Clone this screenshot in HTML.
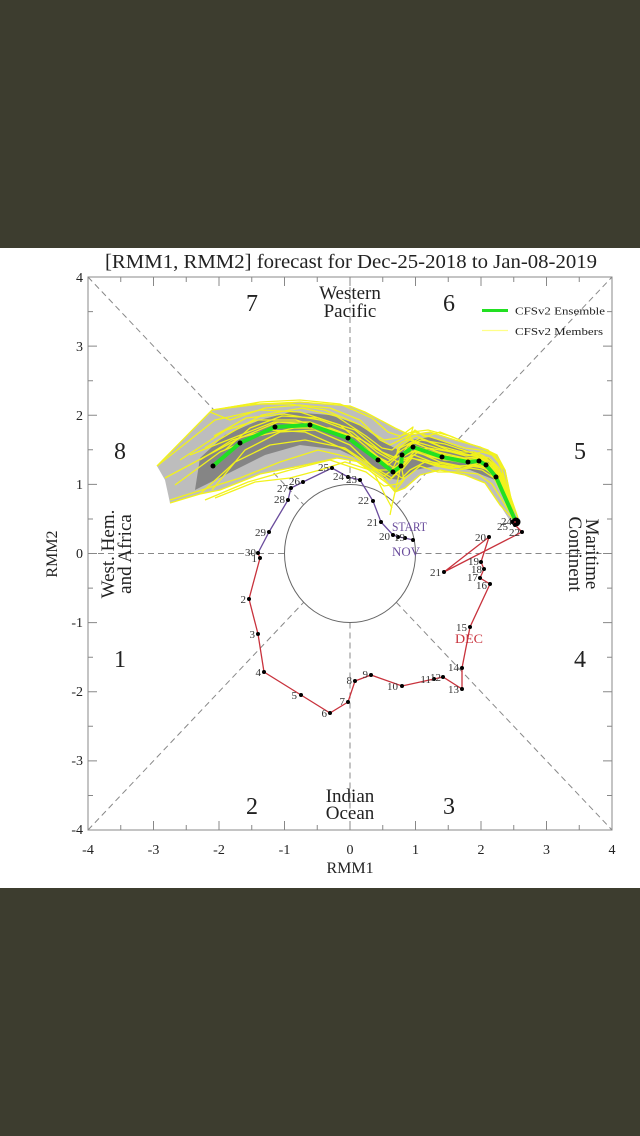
<!DOCTYPE html>
<html><head><meta charset="utf-8"><style>
html,body{margin:0;padding:0;background:#3d3d2f;}
svg{display:block;}
text{font-family:"Liberation Serif",serif;}
</style></head><body>
<svg width="640" height="1136" viewBox="0 0 640 1136" xmlns="http://www.w3.org/2000/svg">
<rect x="0" y="0" width="640" height="1136" fill="#3d3d2f"/>
<rect x="0" y="248" width="640" height="640" fill="#ffffff"/>

<!-- title -->
<text x="105" y="268" font-size="20" fill="#222" textLength="492" lengthAdjust="spacingAndGlyphs">[RMM1, RMM2] forecast for Dec-25-2018 to Jan-08-2019</text>

<!-- dashed guides -->
<g stroke="#888" stroke-width="1" stroke-dasharray="6,4" fill="none">
<line x1="350" y1="277" x2="350" y2="484.5"/>
<line x1="350" y1="622.5" x2="350" y2="830"/>
<line x1="88" y1="553.5" x2="284.5" y2="553.5"/>
<line x1="415.5" y1="553.5" x2="612" y2="553.5"/>
<line x1="88" y1="277" x2="303.7" y2="504.7"/>
<line x1="396.3" y1="602.3" x2="612" y2="830"/>
<line x1="88" y1="830" x2="303.7" y2="602.3"/>
<line x1="396.3" y1="504.7" x2="612" y2="277"/>
</g>
<ellipse cx="350" cy="553.5" rx="65.5" ry="69" fill="none" stroke="#666" stroke-width="1"/>

<!-- frame & ticks -->
<rect x="88" y="277" width="524" height="553" fill="none" stroke="#888" stroke-width="1"/>
<g stroke="#888" stroke-width="1">
<path d="M88 830v-9M153.5 830v-9M219 830v-9M284.5 830v-9M350 830v-9M415.5 830v-9M481 830v-9M546.5 830v-9M612 830v-9"/>
<path d="M120.75 830v-5M186.25 830v-5M251.75 830v-5M317.25 830v-5M382.75 830v-5M448.25 830v-5M513.75 830v-5M579.25 830v-5"/>
<path d="M88 277v9M153.5 277v9M219 277v9M284.5 277v9M350 277v9M415.5 277v9M481 277v9M546.5 277v9M612 277v9"/>
<path d="M120.75 277v5M186.25 277v5M251.75 277v5M317.25 277v5M382.75 277v5M448.25 277v5M513.75 277v5M579.25 277v5"/>
<path d="M88 277h9M88 346.1h9M88 415.3h9M88 484.4h9M88 553.5h9M88 622.6h9M88 691.7h9M88 760.9h9M88 830h9"/>
<path d="M88 311.6h5M88 380.7h5M88 449.8h5M88 519h5M88 588.1h5M88 657.2h5M88 726.3h5M88 795.5h5"/>
<path d="M612 277h-9M612 346.1h-9M612 415.3h-9M612 484.4h-9M612 553.5h-9M612 622.6h-9M612 691.7h-9M612 760.9h-9M612 830h-9"/>
<path d="M612 311.6h-5M612 380.7h-5M612 449.8h-5M612 519h-5M612 588.1h-5M612 657.2h-5M612 726.3h-5M612 795.5h-5"/>
</g>

<!-- tick labels -->
<g font-size="14" fill="#222" text-anchor="middle">
<text x="88" y="854">-4</text><text x="153.5" y="854">-3</text><text x="219" y="854">-2</text><text x="284.5" y="854">-1</text>
<text x="350" y="854">0</text><text x="415.5" y="854">1</text><text x="481" y="854">2</text><text x="546.5" y="854">3</text><text x="612" y="854">4</text>
</g>
<g font-size="14" fill="#222" text-anchor="end">
<text x="83" y="282">4</text><text x="83" y="351">3</text><text x="83" y="420">2</text><text x="83" y="489">1</text>
<text x="83" y="558">0</text><text x="83" y="627">-1</text><text x="83" y="696">-2</text><text x="83" y="765">-3</text><text x="83" y="834">-4</text>
</g>
<text x="350" y="873" font-size="16" fill="#222" text-anchor="middle">RMM1</text>
<text transform="translate(57,554) rotate(-90)" font-size="16" fill="#222" text-anchor="middle">RMM2</text>

<!-- phase numbers -->
<g font-size="24" fill="#222" text-anchor="middle">
<text x="252" y="311">7</text><text x="449" y="311">6</text>
<text x="120" y="459">8</text><text x="580" y="459">5</text>
<text x="120" y="667">1</text><text x="580" y="667">4</text>
<text x="252" y="814">2</text><text x="449" y="814">3</text>
</g>
<g font-size="19" fill="#222" text-anchor="middle">
<text x="350" y="299">Western</text><text x="350" y="317">Pacific</text>
<text x="350" y="802">Indian</text><text x="350" y="819">Ocean</text>
<text transform="translate(114,554) rotate(-90)">West. Hem.</text>
<text transform="translate(131,554) rotate(-90)">and Africa</text>
<text transform="translate(586,554) rotate(90)">Maritime</text>
<text transform="translate(569,554) rotate(90)">Continent</text>
</g>

<!-- legend -->
<line x1="482" y1="310.5" x2="508" y2="310.5" stroke="#22e022" stroke-width="3"/>
<line x1="482" y1="330.5" x2="508" y2="330.5" stroke="#ffff88" stroke-width="1.2"/>
<text x="515" y="314.5" font-size="11" fill="#222" textLength="90" lengthAdjust="spacingAndGlyphs">CFSv2 Ensemble</text>
<text x="515" y="335" font-size="11" fill="#222" textLength="88" lengthAdjust="spacingAndGlyphs">CFSv2 Members</text>

<!-- ensemble spread -->
<polygon fill="#bdbdbd" points="157,466 212,410 260,404 300,402 350,406 365,412 395,428 410,435 430,432 455,440 480,447 497,455 505,470 510,495 518,518 512,524 500,505 485,483 465,475 440,470 420,475 405,488 395,492 383,478 360,462 337,458 300,466 260,474 220,490 200,494 170,503 165,480"/>
<polygon fill="#858585" points="200,458 225,435 260,420 290,412 330,415 360,425 380,440 398,450 410,440 430,437 460,448 490,458 500,475 515,515 495,480 470,470 440,465 415,470 400,480 385,478 365,462 340,450 300,445 265,455 235,470 205,485 195,490"/>

<!-- members -->
<g fill="none" stroke="#f2f21c" stroke-width="1.3" stroke-linejoin="round">
<polyline points="157,466 212,410 260,404 300,402 350,406 365,412 395,428 410,435 430,432 455,440 480,447 497,455 505,470 510,495 518,518"/>
<polyline points="170,503 200,494 220,490 260,474 300,466 337,458 360,462 383,478 395,492 405,488 420,475 440,470 465,475 485,483 500,505 516,522"/>
<polyline points="516,522 502,470 495,455 480,450 465,448 440,440 415,432 400,440 390,445 380,440 360,420 330,408 300,405 265,408 230,420 210,412"/>
<polyline points="516,522 498,480 490,468 475,465 460,466 440,462 418,452 405,462 400,470 392,478 375,468 345,448 305,440 270,445 235,462 200,494"/>
<polyline points="516,522 500,475 484,460 476,455 466,456 444,450 410,440 398,448 396,458 388,465 370,450 340,425 300,412 260,410 215,420 157,466"/>
<polyline points="516,522 494,478 482,470 470,468 458,470 436,466 412,458 402,470 404,480 396,490 380,478 352,458 318,450 280,462 240,478 170,500"/>
<polyline points="516,522 505,470 492,455 482,452 470,455 448,450 420,438 408,445 404,452 396,458 382,452 355,430 318,418 282,416 250,428 225,450"/>
<polyline points="516,522 497,482 488,470 476,466 462,468 440,465 414,455 396,462 392,470 384,476 372,468 346,450 305,432 268,430 232,440 200,460"/>
<polyline points="516,522 502,474 490,462 478,458 466,460 445,455 420,445 410,438 413,427 398,438 384,440 360,425 325,410 290,404 250,404 212,410"/>
<polyline points="516,522 495,476 485,466 472,462 460,462 436,458 408,450 400,458 398,470 390,480 376,470 350,445 315,430 280,432 245,450 212,490"/>
<polyline points="516,522 500,478 489,464 480,460 470,460 444,460 416,450 404,456 402,462 394,468 380,458 352,440 312,425 278,422 240,438 165,478"/>
<polyline points="516,522 498,474 486,462 478,459 466,459 442,455 412,445 404,452 400,464 394,470 378,462 348,436 310,422 274,422 238,436 190,455"/>
<polyline points="516,522 500,480 484,468 470,466 456,466 432,462 410,458 400,470 396,488 392,505 390,515"/>
<polyline points="516,522 497,472 488,460 478,457 464,458 438,452 412,442 400,448 396,456 388,462 372,454 340,434 296,420 258,420 226,430 180,460"/>
<polyline points="516,522 503,478 493,466 483,463 470,465 450,468 425,462 410,470 402,478 390,470 370,470 345,462 320,470 290,478 255,482 215,498"/>
<polyline points="516,522 496,470 484,456 474,452 462,452 440,446 416,436 402,442 392,450 382,448 366,436 336,416 302,408 262,415 232,432 205,448"/>
<polyline points="516,522 508,490 500,462 488,450 470,444 450,436 428,430 412,432 400,436 388,432 372,418 340,404 300,400 260,402 225,408"/>
<polyline points="516,522 492,484 478,474 460,472 438,472 420,466 408,476 398,484 384,486 366,472 330,460 290,470 248,482 205,500"/>
<polyline points="516,522 504,482 496,466 486,458 474,456 452,452 428,448 414,452 406,460 398,462 388,456 362,440 330,428 294,428 258,436 220,452 175,485"/>
<polyline points="516,522 499,468 489,458 481,456 469,452 445,444 421,440 408,446 399,452 391,460 377,452 352,432 320,420 284,414 246,418 214,436"/>
<polyline points="360,462 375,475 385,495 392,508"/>
<polyline points="405,440 415,430 425,437 440,432 455,438"/>
</g>

<!-- ensemble mean -->
<polyline fill="none" stroke="#22e022" stroke-width="4" stroke-linejoin="round" points="516,522 496,477 486,465 479,461 468,462 442,457 413,447 402,455 401,466 393,472 378,460 348,438 310,425 275,427 240,443 213,466"/>
<g fill="#000">
<circle cx="496" cy="477" r="2.5"/><circle cx="486" cy="465" r="2.5"/><circle cx="479" cy="461" r="2.5"/><circle cx="468" cy="462" r="2.5"/>
<circle cx="442" cy="457" r="2.5"/><circle cx="413" cy="447" r="2.5"/><circle cx="402" cy="455" r="2.5"/><circle cx="401" cy="466" r="2.5"/>
<circle cx="393" cy="472" r="2.5"/><circle cx="378" cy="460" r="2.5"/><circle cx="348" cy="438" r="2.5"/><circle cx="310" cy="425" r="2.5"/>
<circle cx="275" cy="427" r="2.5"/><circle cx="240" cy="443" r="2.5"/><circle cx="213" cy="466" r="2.5"/>
<circle cx="516" cy="522" r="4.5"/>
</g>

<!-- observed Nov (purple) -->
<polyline fill="none" stroke="#6a4c9c" stroke-width="1.3" points="413,540 405,538 398,537 393,535 381,522 373,501 360,480 348,477 332,468 303,482 291,488 288,500 269,532 258,553"/>
<!-- observed Dec (red) -->
<polyline fill="none" stroke="#c8323c" stroke-width="1.3" points="258,553 260,558 249,599 258,634 264,672 301,695 330,713 348,702 355,681 371,675 402,686 434,679 443,677 462,689 462,668 470,627 490,584 480,578 484,569 481,562 489,537 444,572 522,532 515,525 512,522 516,522"/>
<g fill="#000">
<circle cx="413" cy="540" r="2"/><circle cx="405" cy="538" r="2"/><circle cx="398" cy="537" r="2"/><circle cx="393" cy="535" r="2"/>
<circle cx="381" cy="522" r="2"/><circle cx="373" cy="501" r="2"/><circle cx="360" cy="480" r="2"/><circle cx="348" cy="477" r="2"/>
<circle cx="332" cy="468" r="2"/><circle cx="303" cy="482" r="2"/><circle cx="291" cy="488" r="2"/><circle cx="288" cy="500" r="2"/>
<circle cx="269" cy="532" r="2"/><circle cx="258" cy="553" r="2"/>
<circle cx="260" cy="558" r="2"/><circle cx="249" cy="599" r="2"/><circle cx="258" cy="634" r="2"/><circle cx="264" cy="672" r="2"/>
<circle cx="301" cy="695" r="2"/><circle cx="330" cy="713" r="2"/><circle cx="348" cy="702" r="2"/><circle cx="355" cy="681" r="2"/>
<circle cx="371" cy="675" r="2"/><circle cx="402" cy="686" r="2"/><circle cx="434" cy="679" r="2"/><circle cx="443" cy="677" r="2"/>
<circle cx="462" cy="689" r="2"/><circle cx="462" cy="668" r="2"/><circle cx="470" cy="627" r="2"/><circle cx="490" cy="584" r="2"/>
<circle cx="480" cy="578" r="2"/><circle cx="484" cy="569" r="2"/><circle cx="481" cy="562" r="2"/><circle cx="489" cy="537" r="2"/>
<circle cx="444" cy="572" r="2"/><circle cx="522" cy="532" r="2"/><circle cx="515" cy="525" r="2"/><circle cx="512" cy="522" r="2"/>
</g>

<!-- point labels -->
<g font-size="11" fill="#333" text-anchor="end">
<text x="390" y="540">20</text><text x="405" y="541">19</text>
<text x="378" y="526">21</text><text x="369" y="504">22</text><text x="357" y="483">23</text><text x="344" y="480">24</text>
<text x="329" y="471">25</text><text x="300" y="485">26</text><text x="288" y="492">27</text><text x="285" y="503">28</text>
<text x="266" y="536">29</text><text x="256" y="556">30</text>
<text x="257" y="562">1</text><text x="246" y="603">2</text><text x="255" y="638">3</text><text x="261" y="676">4</text>
<text x="297" y="699">5</text><text x="327" y="717">6</text><text x="345" y="705">7</text><text x="352" y="684">8</text>
<text x="368" y="678">9</text><text x="398" y="690">10</text><text x="431" y="683">11</text><text x="441" y="681">12</text>
<text x="459" y="693">13</text><text x="459" y="671">14</text><text x="467" y="631">15</text><text x="487" y="589">16</text>
<text x="478" y="581">17</text><text x="482" y="573">18</text><text x="479" y="565">19</text><text x="486" y="541">20</text>
<text x="441" y="576">21</text><text x="520" y="536">22</text><text x="508" y="530">25</text><text x="512" y="525">24</text>
</g>
<text x="392" y="531" font-size="13" fill="#6a4c9c" textLength="35" lengthAdjust="spacingAndGlyphs">START</text>
<text x="392" y="556" font-size="13" fill="#6a4c9c" textLength="28" lengthAdjust="spacingAndGlyphs">NOV</text>
<text x="455" y="643" font-size="13" fill="#c8323c" textLength="28" lengthAdjust="spacingAndGlyphs">DEC</text>
</svg>
</body></html>
